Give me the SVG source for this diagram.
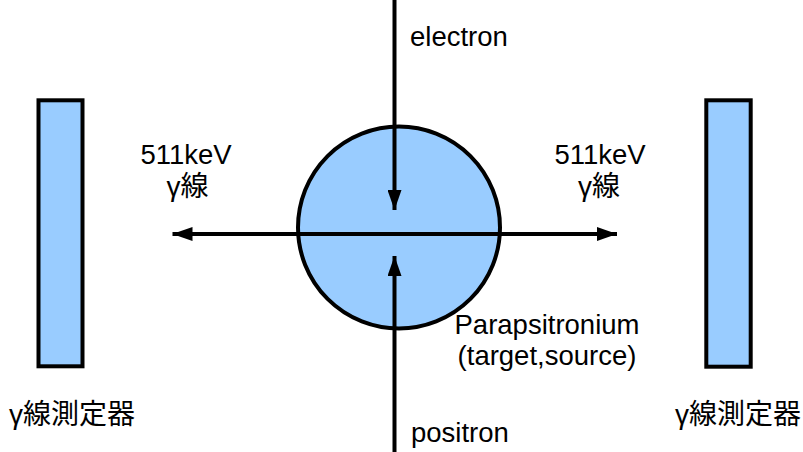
<svg xmlns="http://www.w3.org/2000/svg" width="803" height="452" viewBox="0 0 803 452">
<style>
.shape{fill:#99ccff;stroke:#000;stroke-width:4}
.t{font-family:"Liberation Sans","Noto Sans CJK JP",sans-serif;font-size:27.5px;fill:#000}
.c{text-anchor:middle}
.j{font-family:"Liberation Sans","Noto Sans CJK JP",sans-serif;font-size:28px;fill:#000}
.ln{stroke:#000;stroke-width:4;fill:none}
</style>
<defs>
<marker id="ah" markerUnits="userSpaceOnUse" markerWidth="20" markerHeight="14" refX="20" refY="7" orient="auto">
<path d="M0,0 L20,7 L0,14 Z" fill="#000"/>
</marker>
<marker id="ahs" markerUnits="userSpaceOnUse" markerWidth="20" markerHeight="14" refX="0" refY="7" orient="auto">
<path d="M20,0 L0,7 L20,14 Z" fill="#000"/>
</marker>
</defs>
<g id="detector-left">
<rect class="shape" x="38.5" y="100.3" width="44" height="266"/>
<text class="j" x="9" y="424">γ線測定器</text>
</g>
<g id="detector-right">
<rect class="shape" x="706.3" y="100.3" width="44.4" height="266.4"/>
<text class="j" x="675" y="424">γ線測定器</text>
</g>
<g id="target">
<circle class="shape" cx="399" cy="227.5" r="101"/>
<text class="t c" x="547" y="334">Parapsitronium</text>
<text class="t c" x="547" y="365">(target,source)</text>
</g>
<g id="connectors">
<line class="ln" x1="394.5" y1="0" x2="394.5" y2="210" marker-end="url(#ah)"/>
<line class="ln" x1="394.5" y1="452" x2="394.5" y2="256" marker-end="url(#ah)"/>
<line class="ln" x1="172.5" y1="234" x2="617" y2="234" marker-start="url(#ahs)" marker-end="url(#ah)"/>
</g>
<g id="labels">
<text class="t" x="410" y="46">electron</text>
<text class="t" x="411" y="442">positron</text>
<text class="t c" x="186" y="164">511keV</text>
<text class="j c" x="187.5" y="196">γ線</text>
<text class="t c" x="600" y="164">511keV</text>
<text class="j c" x="599" y="196">γ線</text>
</g>
</svg>
